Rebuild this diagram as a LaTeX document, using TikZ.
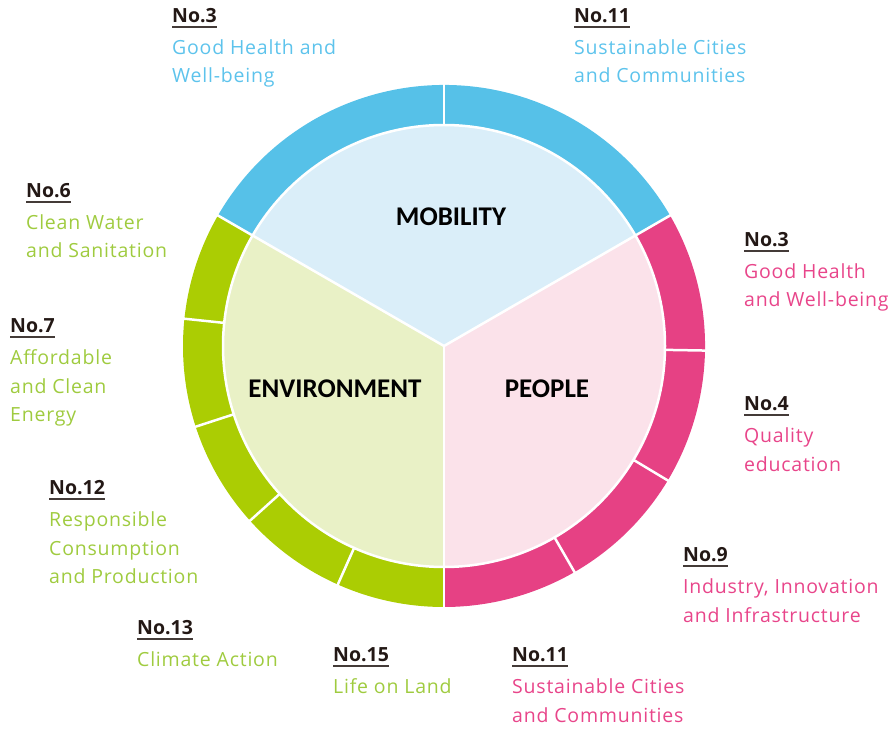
\documentclass[tikz,border=0pt]{standalone}
\usepackage{fontspec}
\setmainfont{Open Sans}
\newfontfamily\bodyfont{Open Sans}[LetterSpace=4]
\newfontfamily\headfont{Open Sans}[BoldFont={Open Sans Bold}]
\newfontfamily\secfont{Carlito}
\definecolor{ringB}{HTML}{56C1E8}
\definecolor{ringP}{HTML}{E64184}
\definecolor{ringG}{HTML}{ABCD03}
\definecolor{fillB}{HTML}{DAEEF9}
\definecolor{fillP}{HTML}{FBE2EA}
\definecolor{fillG}{HTML}{E9F1C6}
\definecolor{txtB}{HTML}{5DC3EC}
\definecolor{txtP}{HTML}{E8458A}
\definecolor{txtG}{HTML}{9FCB3F}
\definecolor{headC}{HTML}{231815}
\newcommand\ringseg[3]{\fill[#1] (#2:221) arc[start angle=#2,end angle=#3,radius=221] -- (#3:261) arc[start angle=#3,end angle=#2,radius=261] -- cycle;}
\begin{document}
\begin{tikzpicture}[x=1pt,y=1pt,
  head/.style={inner sep=0pt, anchor=base west, text=headC, font={\headfont\bfseries\fontsize{19.5}{22}\selectfont}},
  uline/.style={draw=headC!85, line width=2pt},
  body/.style={inner sep=0pt, anchor=base west, align=left, font={\bodyfont\fontsize{19.5}{28.5}\selectfont}},
  sec/.style={inner sep=0pt, text=black, font={\secfont\bfseries\fontsize{27}{30}\selectfont}},
  sep/.style={white, line width=2.5pt}]
\useasboundingbox (0,0) rectangle (894,729);
\begin{scope}[shift={(444,383)}]
  \fill[fillB] (0,0) -- (30:221) arc[start angle=30,end angle=150,radius=221] -- cycle;
  \fill[fillG] (0,0) -- (150:221) arc[start angle=150,end angle=270,radius=221] -- cycle;
  \fill[fillP] (0,0) -- (-90:221) arc[start angle=-90,end angle=30,radius=221] -- cycle;
  \ringseg{ringB}{30}{150}
  \ringseg{ringG}{150}{270}
  \ringseg{ringP}{-90}{30}
  \draw[sep] (0,0) circle[radius=221];
  \foreach \a in {30,150,270} \draw[sep] (0,0) -- (\a:262);
  \foreach \a in {90,174,198,222,246,-1,-31,-60} \draw[sep] (\a:220) -- (\a:262);
\end{scope}
\node[sec] (mob) at (451,729-217) {MOBILITY};
\node[sec] (env) at (335,729-389) {ENVIRONMENT};
\node[sec] (peo) at (547,729-389) {PEOPLE};
% labels: name, x, heading centre y, colour, heading, body, number of body lines
\newcommand\sdg[7]{%
  \node[head] (#1h) at (#2,729-#3-7.5) {#5};
  \draw[uline] ([yshift=-4.5pt]#1h.base west) -- ([yshift=-4.5pt]#1h.base east);
  \node[body, text=#4] (#1b) at (#2,729-#3-39.5-28.5*#7+28.5) {#6};}
\sdg{a}{172}{15}{txtB}{No.3}{Good Health and\\Well-being}{2}
\sdg{b}{574}{15}{txtB}{No.11}{Sustainable Cities\\and Communities}{2}
\sdg{c}{26}{190}{txtG}{No.6}{Clean Water\\and Sanitation}{2}
\sdg{d}{10}{325}{txtG}{No.7}{Affordable\\and Clean\\Energy}{3}
\sdg{e}{49}{487}{txtG}{No.12}{Responsible\\Consumption\\and Production}{3}
\sdg{f}{137}{627}{txtG}{No.13}{Climate Action}{1}
\sdg{g}{333}{654}{txtG}{No.15}{Life on Land}{1}
\sdg{h}{512}{654}{txtP}{No.11}{Sustainable Cities\\and Communities}{2}
\sdg{i}{744}{239}{txtP}{No.3}{Good Health\\and Well-being}{2}
\sdg{j}{744}{403}{txtP}{No.4}{Quality\\education}{2}
\sdg{k}{683}{554}{txtP}{No.9}{Industry, Innovation\\and Infrastructure}{2}
\end{tikzpicture}
\end{document}
